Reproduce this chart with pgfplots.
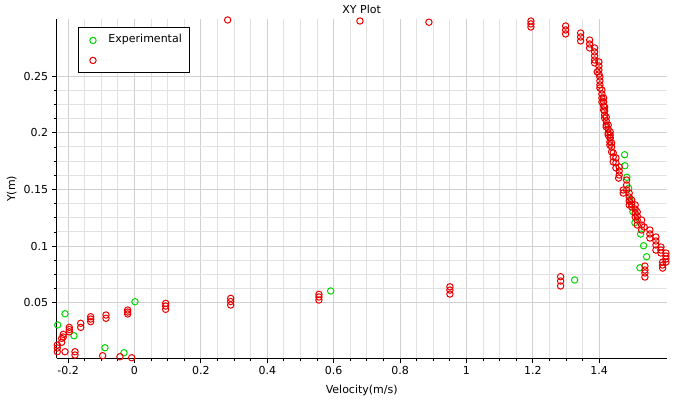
\documentclass[border=0pt]{standalone}
\usepackage{fontspec}
\setmainfont{DejaVu Sans}
\usepackage{pgfplots}
\usepackage{pgfplotstable}
\pgfplotsset{compat=1.18}
\definecolor{expgreen}{RGB}{0,215,0}
\definecolor{simred}{RGB}{235,0,0}
\definecolor{majgrid}{RGB}{208,208,208}
\definecolor{mingrid}{RGB}{226,226,226}
\newcommand{\chartfont}{\fontsize{11bp}{13bp}\selectfont}

\pgfplotstableread{
v Y
1.4765 0.1806
1.4774 0.1709
1.4834 0.1607
1.4886 0.1510
1.4925 0.1409
1.5015 0.1303
1.5075 0.1206
1.5247 0.1106
1.5337 0.1003
1.5428 0.0906
1.5226 0.0809
1.3259 0.0701
0.5910 0.0604
0.0015 0.0509
-0.2093 0.0403
-0.2313 0.0304
-0.1822 0.0209
-0.0889 0.0103
-0.0316 0.0059
}\expdata

\pgfplotstableread{
v Y
0.2807 0.2995
0.6792 0.2986
0.8870 0.2975
1.1943 0.2986
1.1943 0.2960
1.1943 0.2933
1.2988 0.2942
1.2988 0.2907
1.2988 0.2872
1.3440 0.2880
1.3440 0.2845
1.3440 0.2810
1.3711 0.2818
1.3711 0.2783
1.3711 0.2748
1.3861 0.2748
1.3861 0.2713
1.3861 0.2678
1.3861 0.2642
1.3861 0.2616
1.3991 0.2625
1.3991 0.2589
1.3991 0.2554
1.3940 0.2536
1.3991 0.2519
1.4021 0.2492
1.4021 0.2457
1.4021 0.2422
1.4021 0.2395
1.4081 0.2377
1.4081 0.2342
1.4081 0.2307
1.4081 0.2272
1.4133 0.2307
1.4133 0.2272
1.4133 0.2236
1.4133 0.2201
1.4163 0.2227
1.4163 0.2192
1.4163 0.2157
1.4163 0.2130
1.4211 0.2139
1.4211 0.2104
1.4211 0.2068
1.4211 0.2051
1.4271 0.2068
1.4271 0.2033
1.4271 0.1998
1.4271 0.1980
1.4331 0.2007
1.4331 0.1980
1.4331 0.1954
1.4322 0.1954
1.4322 0.1919
1.4322 0.1892
1.4373 0.1910
1.4373 0.1875
1.4373 0.1831
1.4422 0.1822
1.4422 0.1787
1.4422 0.1743
1.4503 0.1778
1.4503 0.1734
1.4503 0.1690
1.4602 0.1698
1.4602 0.1663
1.4602 0.1627
1.4584 0.1600
1.4825 0.1583
1.4825 0.1539
1.4825 0.1495
1.4723 0.1495
1.4723 0.1468
1.4904 0.1468
1.4904 0.1433
1.4904 0.1398
1.4904 0.1363
1.4976 0.1407
1.4976 0.1371
1.4976 0.1345
1.5084 0.1363
1.5084 0.1327
1.5084 0.1292
1.5084 0.1257
1.5145 0.1301
1.5145 0.1266
1.5145 0.1230
1.5145 0.1186
1.5277 0.1230
1.5277 0.1186
1.5277 0.1142
1.5355 0.1168
1.5527 0.1142
1.5527 0.1107
1.5527 0.1071
1.5708 0.1080
1.5708 0.1045
1.5708 0.1010
1.5708 0.0965
1.5858 0.0992
1.5858 0.0965
1.5858 0.0939
1.6009 0.0939
1.6009 0.0912
1.6009 0.0886
1.6009 0.0859
1.5910 0.0859
1.5910 0.0833
1.5910 0.0806
1.5377 0.0824
1.5377 0.0789
1.5377 0.0763
1.5377 0.0727
1.2837 0.0730
1.2837 0.0692
1.2837 0.0648
0.9503 0.0641
0.9503 0.0612
0.9503 0.0577
0.5557 0.0574
0.5557 0.0551
0.5557 0.0524
0.2898 0.0539
0.2898 0.0511
0.2898 0.0480
0.0940 0.0495
0.0940 0.0471
0.0940 0.0442
-0.0205 0.0436
-0.0205 0.0418
-0.0205 0.0401
-0.0858 0.0392
-0.0858 0.0363
-0.1319 0.0377
-0.1319 0.0356
-0.1319 0.0333
-0.1620 0.0319
-0.1620 0.0283
-0.1964 0.0283
-0.1964 0.0264
-0.1964 0.0244
-0.2145 0.0221
-0.2145 0.0198
-0.2193 0.0186
-0.2193 0.0151
-0.2325 0.0127
-0.2325 0.0101
-0.2325 0.0068
-0.2093 0.0068
-0.1792 0.0068
-0.1792 0.0039
-0.0958 0.0033
-0.0437 0.0024
-0.0084 0.0015
}\simdata

\begin{document}
\begin{tikzpicture}
\useasboundingbox (0,0) rectangle (684bp,408bp);
\begin{axis}[
  at={(56.7bp,49.7bp)}, anchor=south west,
  scale only axis, width=610bp, height=339bp,
  xmin=-0.2343, xmax=1.6033, ymin=0.001, ymax=0.3001,
  axis x line*=bottom, axis y line*=left,
  axis line style={black, line width=1bp, -},
  xtick={-0.2,0,0.2,0.4,0.6,0.8,1,1.2,1.4},
  xticklabels={-0.2,0,0.2,0.4,0.6,0.8,1,1.2,1.4},
  ytick={0.05,0.1,0.15,0.2,0.25},
  yticklabels={0.05,0.1,0.15,0.2,0.25},
  minor x tick num=3, minor y tick num=3,
  tick align=outside,
  major tick length=5bp, minor tick length=3bp,
  every tick/.style={black, line width=0.8bp},
  grid=both,
  major grid style={majgrid, line width=1bp},
  minor grid style={mingrid, line width=1bp},
  tick label style={font=\chartfont},
  title={XY Plot},
  title style={font=\chartfont, at={(axis description cs:0.5,1)}, anchor=center, yshift=4bp},
  xlabel={Velocity(m/s)},
  ylabel={Y(m)},
  every axis x label/.style={at={(axis description cs:0.5,0)}, anchor=center, yshift=-32.5bp, font=\chartfont},
  every axis y label/.style={at={(axis description cs:0,0.5)}, anchor=center, xshift=-45bp, rotate=90, font=\chartfont},
  clip=false,
  legend cell align=left,
  legend image code/.code={%
    \path (0bp,0bp) (17bp,0bp);
    \draw[mark repeat=2,mark phase=2,#1] plot coordinates {(0bp,0bp) (8.5bp,0bp) (17bp,0bp)};},
  legend style={at={(axis description cs:0.0344,0.976)}, anchor=north west,
    draw=black, line width=1bp, fill=white, font=\chartfont,
    inner xsep=5.8bp, inner ysep=5bp, row sep=5bp, column sep=4.5bp,
    nodes={inner sep=2bp, text height=8bp, text depth=3bp}},
]
\addplot[only marks, mark=o, mark size=3.2bp, draw=expgreen, mark options={line width=1bp, draw=expgreen}] table[x=v, y=Y] {\expdata};
\addlegendentry{Experimental}
\addplot[only marks, mark=o, mark size=3.2bp, draw=simred, mark options={line width=1bp, draw=simred}] table[x=v, y=Y] {\simdata};
\addlegendentry{\mbox{}}
\end{axis}
\end{tikzpicture}
\end{document}
